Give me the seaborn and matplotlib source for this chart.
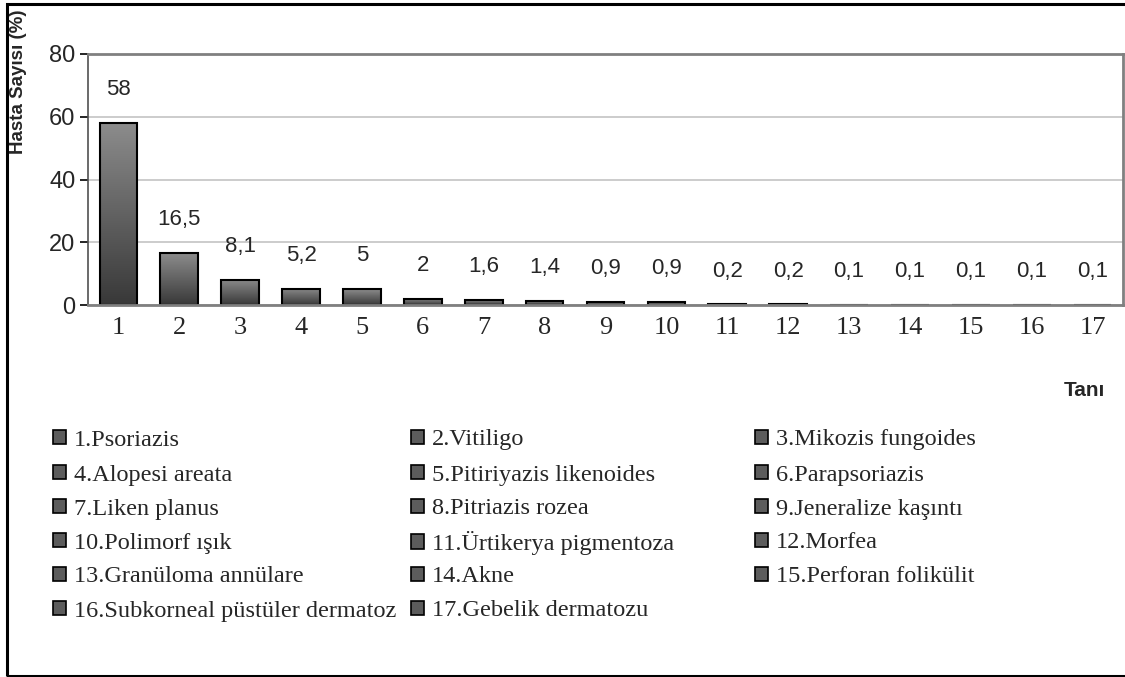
import numpy as np
import pandas as pd
import matplotlib
matplotlib.use("Agg")
import matplotlib.pyplot as plt
import seaborn as sns
from matplotlib.colors import LinearSegmentedColormap
from matplotlib.patches import Rectangle

# data
codes = [str(i) for i in range(1, 18)]
values = [58, 16.5, 8.1, 5.2, 5, 2, 1.6, 1.4, 0.9, 0.9, 0.2, 0.2, 0.1, 0.1, 0.1, 0.1, 0.1]
diagnoses = [
    "Psoriazis", "Vitiligo", "Mikozis fungoides", "Alopesi areata",
    "Pitiriyazis likenoides", "Parapsoriazis", "Liken planus", "Pitriazis rozea",
    "Jeneralize kaşıntı", "Polimorf ışık", "Ürtikerya pigmentoza", "Morfea",
    "Granüloma annülare", "Akne", "Perforan folikülit",
    "Subkorneal püstüler dermatoz", "Gebelik dermatozu",
]
y_ticks = [0, 20, 40, 60, 80]

df = pd.DataFrame({"Tanı": codes, "Yüzde": values})

sns.set_style("white")
serif = "Liberation Serif"
sans = "Liberation Sans"
plt.rcParams["font.family"] = [sans, "DejaVu Sans"]

fig = plt.figure(figsize=(11.25, 6.77), dpi=100)
W, H = 1125, 677
ax = fig.add_axes([88 / W, 1 - 305 / H, (1123 - 88) / W, (305 - 54) / H])

sns.barplot(data=df, x="Tanı", y="Yüzde", color="gray", edgecolor="black",
            linewidth=1.5, width=0.62, ax=ax, zorder=2)

# gradient fill inside each bar
cmap = LinearSegmentedColormap.from_list("bargrad", ["#383838", "#8c8c8c"])
grad = np.linspace(0, 1, 256).reshape(-1, 1)
for p in ax.patches:
    p.set_facecolor("none")
    x0, y0 = p.get_x(), p.get_y()
    w, h = p.get_width(), p.get_height()
    im = ax.imshow(grad, cmap=cmap, origin="lower", aspect="auto",
                   extent=[x0, x0 + w, y0, y0 + h], zorder=1.5)
    im.set_clip_path(p)

ax.set_xlim(-0.5, len(codes) - 0.5)
ax.set_ylim(0, 80)
ax.set_yticks(y_ticks)
ax.set_axisbelow(True)
ax.yaxis.grid(True, color="#c4c4c4", linewidth=1.2)
ax.xaxis.grid(False)

for s in ["top", "right", "bottom"]:
    ax.spines[s].set_color("#808080")
    ax.spines[s].set_linewidth(2)
ax.spines["left"].set_color("#505050")
ax.spines["left"].set_linewidth(1.2)

ax.tick_params(axis="y", left=True, length=6, width=1.2, color="black",
               labelsize=17, pad=3)
ax.tick_params(axis="x", bottom=False, pad=5)
for t in ax.get_xticklabels():
    t.set_fontfamily(serif)
    t.set_fontsize(19)
ax.set_xlabel("")
ax.set_ylabel("")

# value labels
for i, v in enumerate(values):
    ax.annotate(f"{v:g}".replace(".", ","), (i, v), xytext=(0, 24),
                textcoords="offset points", ha="center", va="center",
                fontsize=16)

fig.text(19 / W, 1 - 82 / H, "Hasta Sayısı (%)", rotation=90, ha="center",
         va="center", fontsize=13.5, fontweight="bold")
fig.text(1105 / W, 1 - 390 / H, "Tanı", ha="right", va="center",
         fontsize=15, fontweight="bold")

# legend: 3 columns, row-major, one entry per legend so rows line up
col_x = [53, 411, 755]
row_y = [440, 475, 509, 543, 577, 611]
for i, name in enumerate(diagnoses):
    r, c = divmod(i, 3)
    h = Rectangle((0, 0), 1, 1, facecolor="#5c5c5c", edgecolor="black",
                  linewidth=1.2)
    fig.legend([h], [f"{i + 1}.{name}"], loc="center left",
               bbox_to_anchor=(col_x[c] / W, 1 - row_y[r] / H),
               frameon=False, prop={"family": serif, "size": 17.5},
               handlelength=0.55, handleheight=0.55, handletextpad=0.3,
               borderpad=0, borderaxespad=0)

# outer frame (right side runs off the image)
fig.add_artist(Rectangle((7 / W, 1.5 / H), 1.2, (673 - 1.5) / H,
                         transform=fig.transFigure, fill=False,
                         edgecolor="black", linewidth=2.2))

fig.savefig("out.png", dpi=100)
